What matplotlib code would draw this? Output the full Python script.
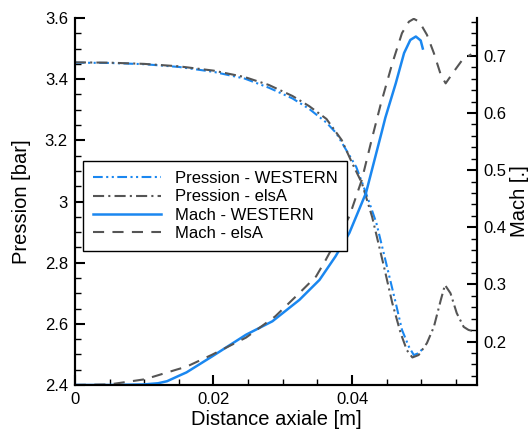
import numpy as np
import matplotlib.pyplot as plt
from matplotlib.ticker import MultipleLocator, FormatStrFormatter

plt.rcParams['font.family'] = ['Liberation Sans', 'DejaVu Sans']
plt.rcParams['lines.scale_dashes'] = False

# Pression - WESTERN
x_p_western = [0.0, 0.005, 0.010, 0.015, 0.020, 0.0245, 0.028, 0.0314, 0.0338, 0.0363,
               0.0377, 0.0406, 0.0420, 0.0435, 0.0448, 0.0463, 0.0472, 0.0482, 0.0489,
               0.0496, 0.0504]
p_western = [3.454, 3.453, 3.449, 3.440, 3.424, 3.402, 3.372, 3.337, 3.303, 3.258,
             3.224, 3.113, 3.028, 2.930, 2.809, 2.668, 2.580, 2.525, 2.498,
             2.504, 2.524]

# Pression - elsA
x_p_elsa = [0.0, 0.005, 0.010, 0.015, 0.020, 0.0245, 0.028, 0.0314, 0.0338, 0.0363,
            0.0385, 0.0400, 0.0414, 0.0429, 0.0446, 0.0458, 0.0470, 0.0479, 0.0487,
            0.0496, 0.0508, 0.0518, 0.0528, 0.0534, 0.0542, 0.0551, 0.0561, 0.0568,
            0.0578]
p_elsa = [3.455, 3.454, 3.450, 3.442, 3.428, 3.407, 3.381, 3.345, 3.312, 3.270,
          3.201, 3.126, 3.061, 2.949, 2.787, 2.668, 2.570, 2.514, 2.490,
          2.498, 2.537, 2.590, 2.678, 2.727, 2.700, 2.635, 2.590, 2.580,
          2.574]

# Mach - WESTERN
x_m_western = [0.0, 0.005, 0.010, 0.012, 0.0133, 0.0151, 0.0161, 0.0198, 0.0247, 0.0285,
               0.0324, 0.0353, 0.0376, 0.0396, 0.0420, 0.0443, 0.0448, 0.0463, 0.0475,
               0.0484, 0.0492, 0.0499, 0.0502]
m_western = [0.124, 0.124, 0.125, 0.127, 0.1306, 0.1406, 0.146, 0.174, 0.212, 0.2355,
             0.273, 0.308, 0.349, 0.390, 0.460, 0.568, 0.592, 0.652, 0.705,
             0.728, 0.734, 0.727, 0.713]

# Mach - elsA
x_m_elsa = [0.0, 0.005, 0.0101, 0.0147, 0.0161, 0.0198, 0.0247, 0.0289, 0.0324, 0.0348,
            0.0362, 0.0396, 0.0414, 0.0429, 0.0441, 0.0458, 0.0472, 0.0482, 0.0489,
            0.0497, 0.0508, 0.0518, 0.0528, 0.0535, 0.0547, 0.0559, 0.0572]
m_elsa = [0.124, 0.125, 0.134, 0.151, 0.156, 0.177, 0.207, 0.244, 0.285, 0.314,
          0.343, 0.419, 0.483, 0.557, 0.614, 0.687, 0.740, 0.760, 0.765,
          0.760, 0.737, 0.705, 0.667, 0.652, 0.673, 0.693, 0.703]

blue = '#1a87f0'
grey = '#555555'

fig, ax1 = plt.subplots(figsize=(5.31, 4.29), dpi=100)
fig.subplots_adjust(left=0.141, right=0.898, bottom=0.1026, top=0.958)
ax2 = ax1.twinx()

# Pressure curves (left axis)
l1, = ax1.plot(x_p_western, p_western, color=blue, lw=1.5,
               dashes=(7, 2.5, 1.5, 2.5, 1.5, 2.5), label='Pression - WESTERN')
l2, = ax1.plot(x_p_elsa, p_elsa, color=grey, lw=1.5,
               dashes=(8, 3, 1.5, 3), label='Pression - elsA')

# Mach curves (right axis)
l3, = ax2.plot(x_m_western, m_western, color=blue, lw=1.8, label='Mach - WESTERN')
l4, = ax2.plot(x_m_elsa, m_elsa, color=grey, lw=1.5, dashes=(8, 6), label='Mach - elsA')

ax1.set_xlim(0, 0.058)
ax1.set_ylim(2.4, 3.6)
ax2.set_ylim(0.124, 0.7664)

ax1.xaxis.set_major_locator(MultipleLocator(0.02))
ax1.xaxis.set_minor_locator(MultipleLocator(0.005))
ax1.xaxis.set_major_formatter(FormatStrFormatter('%g'))
ax1.yaxis.set_major_locator(MultipleLocator(0.2))
ax1.yaxis.set_minor_locator(MultipleLocator(0.05))
ax1.yaxis.set_major_formatter(FormatStrFormatter('%g'))
ax2.yaxis.set_major_locator(MultipleLocator(0.1))
ax2.yaxis.set_minor_locator(MultipleLocator(0.02))
ax2.yaxis.set_major_formatter(FormatStrFormatter('%g'))

for ax in (ax1, ax2):
    ax.tick_params(which='major', direction='in', length=7, width=1.5, labelsize=12, pad=5)
    ax.tick_params(which='minor', direction='in', length=4, width=1.0)
    for s in ax.spines.values():
        s.set_linewidth(1.5)
    ax.spines['top'].set_visible(False)
ax1.tick_params(which='both', top=False, right=False)

ax1.set_xlabel('Distance axiale [m]', fontsize=14.5, labelpad=2)
ax1.set_ylabel('Pression [bar]', fontsize=14.5, labelpad=10)
ax2.set_ylabel('Mach [.]', fontsize=14.5, labelpad=2)

leg = ax2.legend(handles=[l1, l2, l3, l4], loc='upper left', bbox_to_anchor=(0.02, 0.61),
                 borderaxespad=0, fontsize=12, handlelength=4.1, handletextpad=0.8,
                 labelspacing=0.2, borderpad=0.6, fancybox=False, framealpha=1,
                 edgecolor='black')
leg.get_frame().set_linewidth(1.0)

plt.savefig('out.png', dpi=100)
